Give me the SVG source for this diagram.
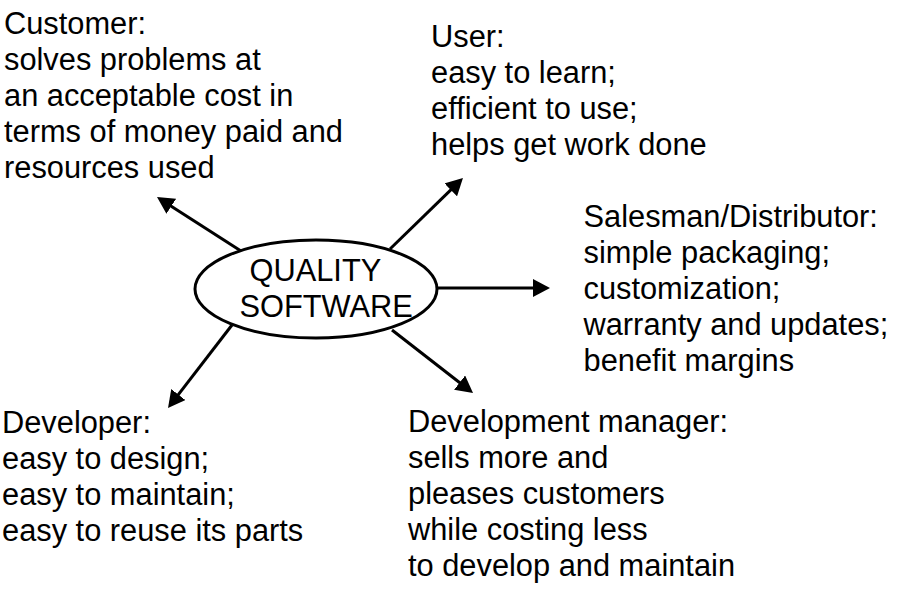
<svg xmlns="http://www.w3.org/2000/svg" width="900" height="589" viewBox="0 0 900 589">
  <style>
    .t { font-family: "Liberation Sans", Arial, sans-serif; font-size: 30.8px; fill: #000; }
    .conn { stroke: #000; stroke-width: 3; fill: none; marker-end: url(#ah); }
  </style>
  <defs>
    <marker id="ah" markerUnits="userSpaceOnUse" markerWidth="17" markerHeight="18" viewBox="0 0 17 18" refX="8" refY="9" orient="auto">
      <path d="M0,0 L17,9 L0,18 z" fill="#000"/>
    </marker>
  </defs>
  <rect width="900" height="589" fill="#fff"/>
  <g id="connectors">
    <line class="conn" x1="241" y1="251" x2="164.6" y2="201.9"/>
    <line class="conn" x1="390" y1="249" x2="456.5" y2="184.3"/>
    <line class="conn" x1="437" y1="288" x2="541" y2="288"/>
    <line class="conn" x1="232" y1="325" x2="173.5" y2="400.9"/>
    <line class="conn" x1="392" y1="330" x2="465.9" y2="387.5"/>
  </g>
  <g id="quality-software">
    <ellipse cx="316" cy="289" rx="121" ry="49" fill="#fff" stroke="#000" stroke-width="3"/>
    <text class="t"><tspan x="249.5" y="281">QUALITY</tspan><tspan x="239.5" y="317">SOFTWARE</tspan></text>
  </g>
  <g id="customer">
    <text class="t">
      <tspan x="4" y="34">Customer:</tspan>
      <tspan x="4" y="70">solves problems at</tspan>
      <tspan x="4" y="106">an acceptable cost in</tspan>
      <tspan x="4" y="142">terms of money paid and</tspan>
      <tspan x="4" y="178">resources used</tspan>
    </text>
  </g>
  <g id="user">
    <text class="t">
      <tspan x="431" y="47">User:</tspan>
      <tspan x="431" y="83">easy to learn;</tspan>
      <tspan x="431" y="119">efficient to use;</tspan>
      <tspan x="431" y="155">helps get work done</tspan>
    </text>
  </g>
  <g id="salesman">
    <text class="t">
      <tspan x="583.5" y="227">Salesman/Distributor:</tspan>
      <tspan x="583.5" y="263">simple packaging;</tspan>
      <tspan x="583.5" y="299">customization;</tspan>
      <tspan x="583.5" y="335">warranty and updates;</tspan>
      <tspan x="583.5" y="371">benefit margins</tspan>
    </text>
  </g>
  <g id="developer">
    <text class="t">
      <tspan x="2" y="433">Developer:</tspan>
      <tspan x="2" y="469">easy to design;</tspan>
      <tspan x="2" y="505">easy to maintain;</tspan>
      <tspan x="2" y="541">easy to reuse its parts</tspan>
    </text>
  </g>
  <g id="development-manager">
    <text class="t">
      <tspan x="408" y="432">Development manager:</tspan>
      <tspan x="408" y="468">sells more and</tspan>
      <tspan x="408" y="504">pleases customers</tspan>
      <tspan x="408" y="540">while costing less</tspan>
      <tspan x="408" y="576">to develop and maintain</tspan>
    </text>
  </g>
</svg>
